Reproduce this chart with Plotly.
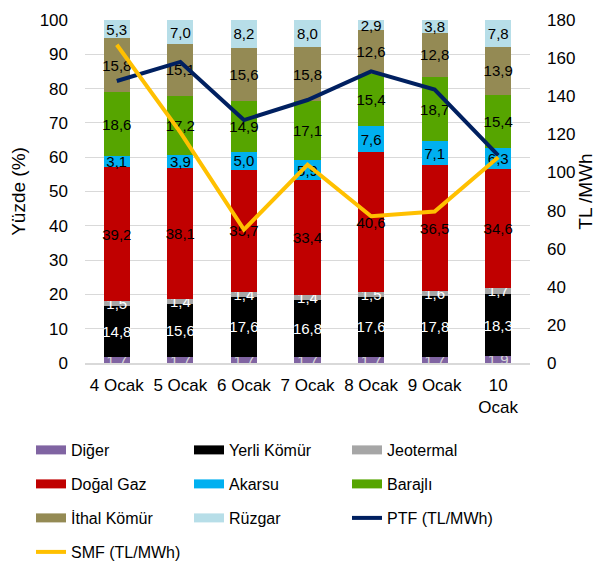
import plotly.graph_objects as go

categories = ["4 Ocak", "5 Ocak", "6 Ocak", "7 Ocak", "8 Ocak", "9 Ocak", "10<br>Ocak"]

diger = [1.7, 1.7, 1.7, 1.7, 1.7, 1.7, 1.9]
yerli_komur = [14.8, 15.6, 17.6, 16.8, 17.6, 17.8, 18.3]
jeotermal = [1.5, 1.4, 1.4, 1.4, 1.5, 1.6, 1.7]
dogal_gaz = [39.2, 38.1, 35.7, 33.4, 40.6, 36.5, 34.6]
akarsu = [3.1, 3.9, 5.0, 5.9, 7.6, 7.1, 6.3]
barajli = [18.6, 17.2, 14.9, 17.1, 15.4, 18.7, 15.4]
ithal_komur = [15.8, 15.1, 15.6, 15.8, 12.6, 12.8, 13.9]
ruzgar = [5.3, 7.0, 8.2, 8.0, 2.9, 3.8, 7.8]

ptf = [148, 158, 127.5, 138, 153, 143.5, 109]
smf = [167, 121, 70, 104, 77, 79.5, 108]

FONT = "Liberation Sans, Arial, sans-serif"

bar_series = [
    ("Diğer", diger, "#8064A2", "#D9D9D9", "legend"),
    ("Yerli Kömür", yerli_komur, "#000000", "#FFFFFF", "legend"),
    ("Jeotermal", jeotermal, "#A6A6A6", "#FFFFFF", "legend"),
    ("Doğal Gaz", dogal_gaz, "#C00000", "#000000", "legend2"),
    ("Akarsu", akarsu, "#00B0F0", "#000000", "legend2"),
    ("Barajlı", barajli, "#56A500", "#000000", "legend2"),
    ("İthal Kömür", ithal_komur, "#948A54", "#000000", "legend3"),
    ("Rüzgar", ruzgar, "#B7DEE8", "#000000", "legend3"),
]

fig = go.Figure()

for name, vals, color, tcolor, _lg in bar_series:
    fig.add_trace(go.Bar(
        x=categories, y=vals, name=name,
        marker=dict(color=color, line=dict(width=0)),
        text=[f"{v:.1f}".replace(".", ",") for v in vals],
        textposition="inside", insidetextanchor="middle", textangle=0,
        textfont=dict(family=FONT, size=15, color=tcolor),
        showlegend=False, hoverinfo="skip",
    ))

fig.add_trace(go.Scatter(
    x=categories, y=ptf, name="PTF (TL/MWh)", mode="lines",
    line=dict(color="#002060", width=4), yaxis="y2", showlegend=False,
))
fig.add_trace(go.Scatter(
    x=categories, y=smf, name="SMF (TL/MWh)", mode="lines",
    line=dict(color="#FFC000", width=4), yaxis="y2", showlegend=False,
))

# legend entries
for name, vals, color, tcolor, lg in bar_series:
    fig.add_trace(go.Scatter(
        x=[None], y=[None], name=name, mode="lines",
        line=dict(color=color, width=9), legend=lg, showlegend=True,
    ))
fig.add_trace(go.Scatter(x=[None], y=[None], name="PTF (TL/MWh)", mode="lines",
                         line=dict(color="#002060", width=4), legend="legend3"))
fig.add_trace(go.Scatter(x=[None], y=[None], name="SMF (TL/MWh)", mode="lines",
                         line=dict(color="#FFC000", width=4), legend="legend4"))

# page body has an 8px margin: figure coordinates = window coordinates - 8
OFF = 8
plot_top, plot_bot = 20 - OFF, 363 - OFF
H = plot_bot - plot_top
def py(px_window):
    return (plot_bot - (px_window - OFF)) / H

leg_common = dict(orientation="h", x=(31 - 85) / 445, xanchor="left", yanchor="middle",
                  font=dict(family=FONT, size=16, color="#000000"),
                  entrywidth=113, entrywidthmode="pixels", bgcolor="rgba(0,0,0,0)",
                  traceorder="normal", itemclick=False)

fig.update_layout(
    width=603 - OFF, height=562 - OFF,
    margin=dict(l=85 - OFF, r=73, t=20 - OFF, b=199, autoexpand=False),
    paper_bgcolor="white", plot_bgcolor="white",
    barmode="stack", bargap=0.59,
    font=dict(family=FONT, color="#000000"),
    uniformtext=dict(minsize=15, mode="show"),
    legend=dict(y=py(450), **leg_common),
    legend2=dict(y=py(484), **leg_common),
    legend3=dict(y=py(518), **leg_common),
    legend4=dict(y=py(552), **leg_common),
    xaxis=dict(
        type="category", showgrid=False, showline=True, linecolor="#D9D9D9", linewidth=1.5,
        tickfont=dict(family=FONT, size=17, color="#000000"), ticks="",
        ticklabelstandoff=6,
    ),
    yaxis=dict(
        range=[0, 100], dtick=10, showgrid=True, gridcolor="#D9D9D9", gridwidth=1,
        zeroline=False, showline=False, ticks="",
        tickfont=dict(family=FONT, size=17, color="#000000"),
        ticklabelstandoff=16,
        title=dict(text="Yüzde (%)", font=dict(family=FONT, size=19, color="#000000"), standoff=10),
    ),
    yaxis2=dict(
        range=[0, 180], dtick=20, overlaying="y", side="right", showgrid=False,
        zeroline=False, showline=False, ticks="",
        tickfont=dict(family=FONT, size=17, color="#000000"),
        ticklabelstandoff=16,
        title=dict(text="TL /MWh", font=dict(family=FONT, size=19, color="#000000"), standoff=2),
    ),
)

fig.write_html("out.html")
